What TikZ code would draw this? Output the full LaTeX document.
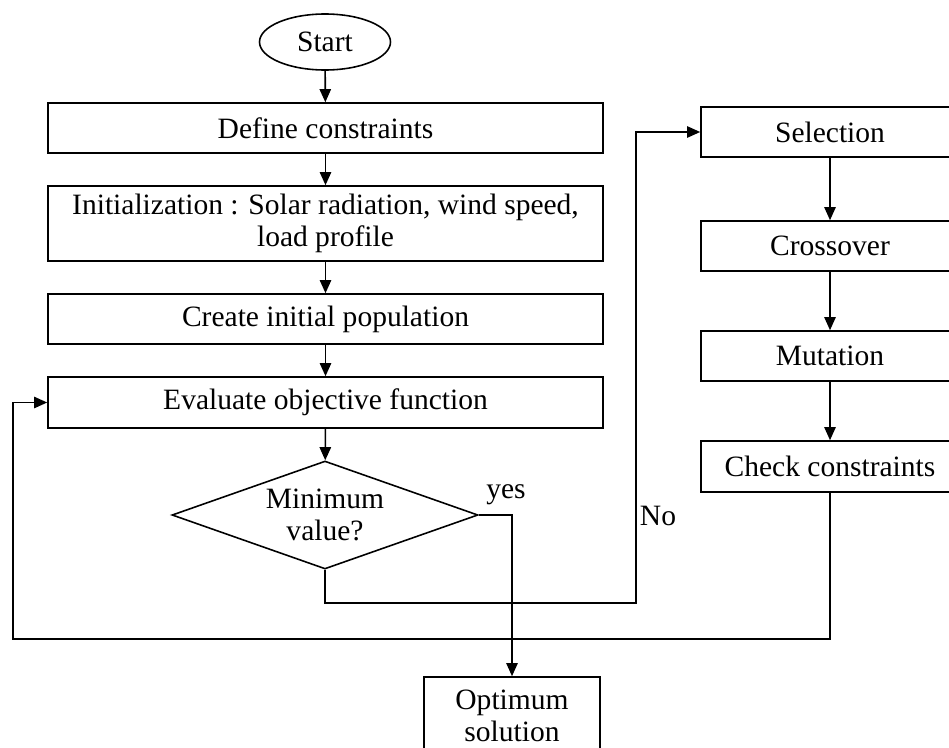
\documentclass[tikz,border=0pt]{standalone}
\usepackage{fontspec}
\setmainfont{Liberation Serif}
\usetikzlibrary{shapes.geometric,arrows.meta}

\begin{document}
\begin{tikzpicture}[
  x=0.02cm, y=-0.02cm,
  font=\fontsize{16.8}{18.5}\selectfont,
  line width=0.9pt,
  box/.style={draw, rectangle, inner sep=0pt, align=center, minimum height=50*0.02cm},
  leftbox/.style={box, minimum width=555*0.02cm},
  rightbox/.style={box, minimum width=258*0.02cm},
  terminal/.style={draw, ellipse, inner sep=0pt, minimum width=131*0.02cm, minimum height=56*0.02cm},
  decision/.style={draw, diamond, aspect=2.83, inner sep=0pt, align=center, minimum width=306*0.02cm, minimum height=108*0.02cm},
  flow/.style={-{Triangle[length=7.5pt,width=6.5pt]}},
  lbl/.style={inner sep=0pt}
]
\useasboundingbox (0,0) rectangle (949,747);
\clip (0,0) rectangle (949,747);

% main column
\node[terminal] (start) at (325,42) {Start};
\node[leftbox] (define) at (325.5,128) {Define constraints};
\node[leftbox, minimum height=75*0.02cm] (init) at (325.5,223.5) {Initialization : Solar radiation, wind speed,\\ load profile};
\node[leftbox] (create) at (325.5,319) {Create initial population};
\node[leftbox, minimum height=51*0.02cm] (eval) at (325.5,402.5) {Evaluate objective function};
\node[decision] (dec) at (325,515) {Minimum\\ value?};
\node[box, minimum width=176*0.02cm, minimum height=78*0.02cm] (opt) at (512,716) {Optimum\\ solution};

% genetic operators column
\node[rightbox] (sel) at (830,132) {Selection};
\node[rightbox] (cross) at (830,246) {Crossover};
\node[rightbox] (mut) at (830,356) {Mutation};
\node[rightbox, minimum height=51*0.02cm] (check) at (830,466.5) {Check constraints};

% routing points
\coordinate (nobend) at (636,603);
\coordinate (loopbend) at (13,639);

% connectors
\draw[flow] (start) -- (define);
\draw[flow] (define) -- (init);
\draw[flow] (init) -- (create);
\draw[flow] (create) -- (eval);
\draw[flow] (eval) -- (dec);
\draw[flow] (dec.east) -| (opt.north);
\draw[flow] (dec.south) |- (nobend) |- (sel.west);
\draw[flow] (sel) -- (cross);
\draw[flow] (cross) -- (mut);
\draw[flow] (mut) -- (check);
\draw[flow] (check.south) |- (loopbend) |- (eval.west);

% branch labels
\node[lbl] (yeslbl) at (506,495) {yes};
\node[lbl] (nolbl) at (658,516) {No};
\end{tikzpicture}
\end{document}
